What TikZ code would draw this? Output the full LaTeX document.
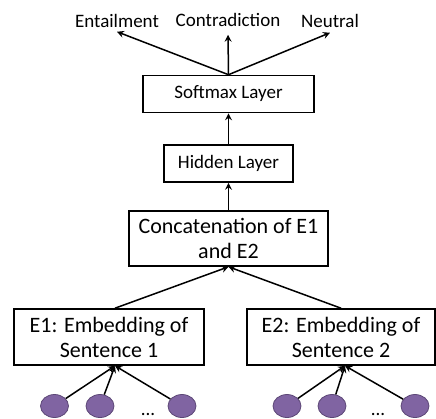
\documentclass[tikz,border=0pt]{standalone}
\usepackage{fontspec}
\setmainfont{Carlito}
\usepackage{tikz}
\usetikzlibrary{shapes.geometric, positioning, arrows.meta}
\definecolor{tokfill}{RGB}{128,100,162}
\definecolor{tokline}{RGB}{92,71,118}

\begin{document}
\begin{tikzpicture}[x=1pt, y=-1pt, line width=1.5pt,
    every node/.style={font=\fontsize{19}{23}\selectfont},
    layer/.style={draw, line width=1.6pt, minimum height=37pt, inner sep=2pt},
    bigbox/.style={draw, line width=1.6pt, align=center, inner sep=2pt, font=\fontsize{22}{25}\selectfont},
    token/.style={draw=tokline, fill=tokfill, ellipse, line width=0.8pt, minimum width=28pt, minimum height=23pt, inner sep=0},
    arr/.style={-{Stealth[length=7pt, width=7pt, inset=2.5pt]}}]

    \useasboundingbox (0,0) rectangle (436,418);

    % Output labels
    \node (ent) at (117, 21) {Entailment};
    \node (con) at (228, 20) {Contradiction};
    \node (neu) at (330, 21) {Neutral};

    % Layers
    \node[layer, minimum width=171pt] (soft) at (228.5, 94) {Softmax Layer};
    \node[layer, minimum width=129pt] (hid) at (228.5, 163.5) {Hidden Layer};
    \node[bigbox, minimum width=199pt, minimum height=55pt] (cat) at (228.5, 238.5) {Concatenation of E1\\and E2};

    % Sentence embeddings
    \node[bigbox, minimum width=190pt, minimum height=56pt] (emb1) at (109, 337) {E1: Embedding of\\Sentence 1};
    \node[bigbox, minimum width=188pt, minimum height=56pt] (emb2) at (341, 337) {E2: Embedding of\\Sentence 2};

    % Word tokens
    \node[token] (w1a) at (54.5, 406) {};
    \node[token] (w1b) at (100, 406) {};
    \node[token] (w1c) at (182, 406) {};
    \node[token] (w2a) at (287, 406) {};
    \node[token] (w2b) at (332, 406) {};
    \node[token] (w2c) at (415, 406) {};
    \node[anchor=base, inner sep=0] (dots1) at (148, 415) {...};
    \node[anchor=base, inner sep=0] (dots2) at (378, 415) {...};

    % Connections
    \draw[arr] (soft.north) -- (ent.south);
    \draw[arr] (soft.north) -- ([yshift=-4pt]con.south);
    \draw[arr] (soft.north) -- ([yshift=-1pt]neu.south);
    \draw[arr] (hid.north) -- (soft.south);
    \draw[arr] (cat.north) -- (hid.south);
    \draw[arr] ([xshift=6pt]emb1.north) -- (cat.south);
    \draw[arr] (emb2.north) -- (cat.south);

    \foreach \w in {w1a, w1b, w1c}
        \draw[arr] (\w) -- ([xshift=6pt]emb1.south);
    \foreach \w in {w2a, w2b, w2c}
        \draw[arr] (\w) -- ([xshift=4pt]emb2.south);
\end{tikzpicture}
\end{document}
